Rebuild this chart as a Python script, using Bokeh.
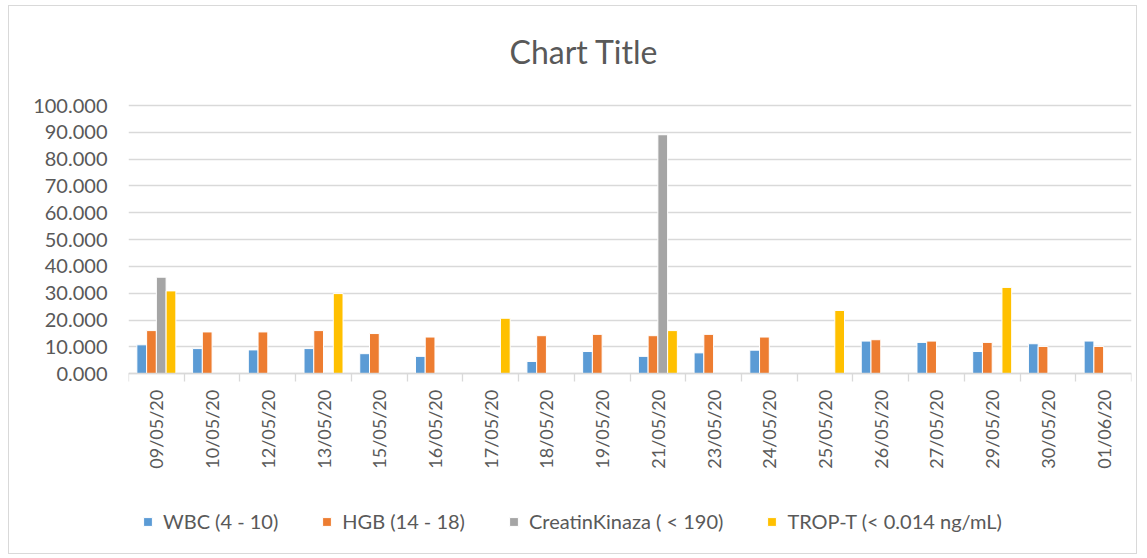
import math
import numpy as np
from bokeh.plotting import figure
from bokeh.models import (ColumnDataSource, FixedTicker, CustomJSTickFormatter,
                          NumeralTickFormatter, Legend, LegendItem, Range1d, Label)
from bokeh.transform import dodge
from bokeh.embed import file_html
from bokeh.resources import INLINE

nan = np.nan

dates = ["09/05/20", "10/05/20", "12/05/20", "13/05/20", "15/05/20", "16/05/20",
         "17/05/20", "18/05/20", "19/05/20", "21/05/20", "23/05/20", "24/05/20",
         "25/05/20", "26/05/20", "27/05/20", "29/05/20", "30/05/20", "01/06/20"]

wbc = [10.8, 9.4, 8.9, 9.4, 7.5, 6.5, nan, 4.6, 8.3, 6.5, 7.8, 8.8, nan, 12.2, 11.7, 8.3, 11.2, 12.2]
hgb = [16.1, 15.6, 15.6, 16.1, 15.0, 13.7, nan, 14.2, 14.7, 14.2, 14.7, 13.7, nan, 12.7, 12.2, 11.7, 10.2, 10.2]
ck = [36.0, nan, nan, nan, nan, nan, nan, nan, nan, 89.1, nan, nan, nan, nan, nan, nan, nan, nan]
trop = [30.9, nan, nan, 29.9, nan, nan, 20.7, nan, nan, 16.1, nan, nan, 23.6, nan, nan, 32.2, nan, nan]

series_names = ["WBC (4 - 10)", "HGB (14 - 18)", "CreatinKinaza ( < 190)", "TROP-T (< 0.014 ng/mL)"]
series_keys = ["wbc", "hgb", "ck", "trop"]
colors = ["#5B9BD5", "#ED7D31", "#A5A5A5", "#FFC000"]
y_ticks = [0, 10, 20, 30, 40, 50, 60, 70, 80, 90, 100]
title_text = "Chart Title"

FONT = "Lato"
TXT = "#595959"
GRID = "#D9D9D9"

# layout (canvas pixels)
W, H = 1129, 549
TOP_PX = 99.0      # where 100 sits
ZERO_PX = 367.3    # where 0 sits
ppu = (ZERO_PX - TOP_PX) / 100.0
y_hi = 100 + TOP_PX / ppu
y_lo = -(H - ZERO_PX) / ppu

n = len(dates)
centers = [i + 0.5 for i in range(n)]
source = ColumnDataSource(dict(x=centers, wbc=wbc, hgb=hgb, ck=ck, trop=trop))

p = figure(width=W, height=H, x_range=Range1d(0, n), y_range=Range1d(y_lo, y_hi),
           output_backend="svg", toolbar_location=None, title=None,
           min_border_left=119, min_border_right=7, min_border_top=0, min_border_bottom=0)
p.styles = {"border": "1px solid #D9D9D9", "position": "relative", "left": "8px", "top": "5px"}
p.outline_line_color = None

bw = 0.175
renderers = []
for k, (key, col) in enumerate(zip(series_keys, colors)):
    off = (k - 1.5) * bw
    r = p.vbar(x=dodge("x", off, range=p.x_range), top=key, width=bw, bottom=0,
               source=source, fill_color=col, line_color="white", line_width=1)
    renderers.append(r)

# x axis (drawn at y = 0)
xa = p.xaxis[0]
xa.fixed_location = 0
xa.ticker = FixedTicker(ticks=centers, minor_ticks=list(range(n + 1)))
xa.formatter = CustomJSTickFormatter(args=dict(labels=dates),
                                     code="return labels[Math.floor(tick)];")
xa.axis_line_color = GRID
xa.axis_line_width = 1.3
xa.major_tick_out = 0
xa.major_tick_in = 0
xa.minor_tick_out = 8
xa.minor_tick_in = 0
xa.minor_tick_line_color = GRID
xa.minor_tick_line_width = 1.3
xa.major_label_orientation = math.pi / 2
xa.major_label_standoff = 8
xa.major_label_text_font = FONT
xa.major_label_text_font_size = "18px"
xa.major_label_text_color = TXT

# y axis
ya = p.yaxis[0]
ya.ticker = FixedTicker(ticks=y_ticks)
ya.formatter = NumeralTickFormatter(format="0.000")
ya.axis_line_color = None
ya.major_tick_out = 0
ya.major_tick_in = 0
ya.minor_tick_out = 0
ya.minor_tick_in = 0
ya.major_label_standoff = 21
ya.major_label_text_font = FONT
ya.major_label_text_font_size = "20px"
ya.major_label_text_color = TXT

p.xgrid.visible = False
p.ygrid.ticker = FixedTicker(ticks=y_ticks)
p.ygrid.grid_line_color = GRID
p.ygrid.grid_line_width = 1.3

# chart title
p.add_layout(Label(x=455.5, y=H - 45, x_units="screen", y_units="screen", text=title_text,
                   text_align="center", text_baseline="middle", text_font=FONT,
                   text_font_size="32px", text_color=TXT))

legend = Legend(items=[LegendItem(label=nm, renderers=[r]) for nm, r in zip(series_names, renderers)],
                orientation="horizontal", location=(14, 22))
legend.background_fill_alpha = 0
legend.border_line_color = None
legend.padding = 0
legend.margin = 0
legend.spacing = 43
legend.glyph_width = 11
legend.glyph_height = 11
legend.label_standoff = 10
legend.label_text_font = FONT
legend.label_text_font_size = "20px"
legend.label_text_color = TXT
p.add_layout(legend)

open("out.html", "w").write(file_html(p, INLINE))
